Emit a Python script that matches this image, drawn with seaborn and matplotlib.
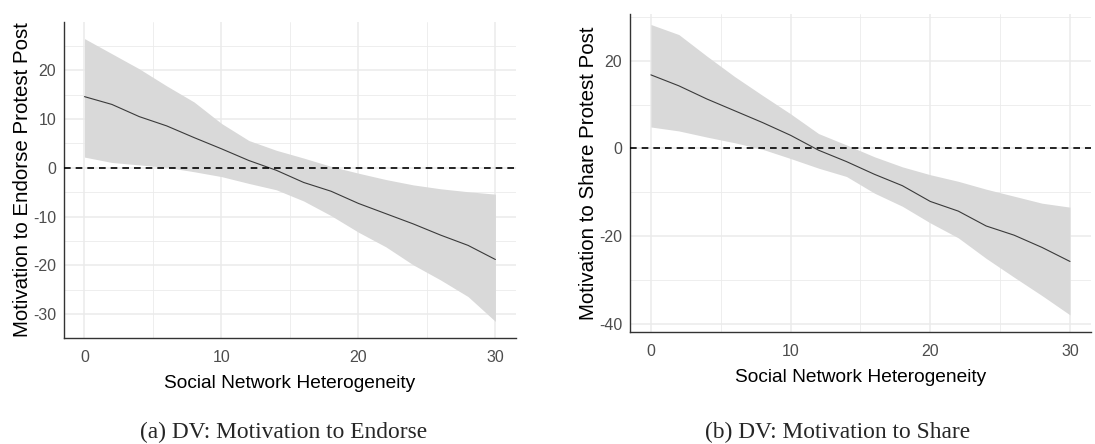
import numpy as np
import pandas as pd
import matplotlib.pyplot as plt
from matplotlib.ticker import MultipleLocator
import seaborn as sns

# heterogeneity grid (x) and estimated marginal effects
het = [0, 2, 4, 6, 8, 10, 12, 14, 16, 18, 20, 22, 24, 26, 28, 30]

endorse_fit = [14.6, 13.0, 10.5, 8.6, 6.2, 3.9, 1.5, -0.5, -3.0, -4.8, -7.3, -9.4, -11.5, -13.8, -15.9, -18.8]
endorse_hi = [26.5, 23.4, 20.3, 16.8, 13.5, 9.1, 5.6, 3.6, 2.0, 0.3, -1.1, -2.4, -3.5, -4.3, -4.9, -5.4]
endorse_lo = [2.2, 1.1, 0.6, 0.1, -0.8, -1.8, -3.2, -4.5, -6.8, -9.8, -13.2, -16.2, -19.9, -23.0, -26.4, -31.5]

share_fit = [16.8, 14.3, 11.3, 8.6, 5.9, 3.0, -0.4, -3.0, -5.9, -8.5, -12.1, -14.3, -17.7, -19.8, -22.6, -25.8]
share_hi = [28.3, 26.0, 21.1, 16.4, 12.1, 7.9, 3.4, 0.8, -1.9, -4.2, -6.0, -7.5, -9.3, -10.9, -12.5, -13.4]
share_lo = [4.9, 4.0, 2.6, 1.3, -0.2, -2.3, -4.5, -6.4, -10.2, -13.2, -17.0, -20.4, -25.1, -29.4, -33.6, -38.0]

ylabels = ["Motivation to Endorse Protest Post", "Motivation to Share Protest Post"]
captions = ["(a) DV: Motivation to Endorse", "(b) DV: Motivation to Share"]

sns.set_style("white")
plt.rcParams["font.family"] = ["Liberation Sans", "DejaVu Sans"]
plt.rcParams["axes.unicode_minus"] = False

GRID = "#EBEBEB"
BAND = "#D9D9D9"
TICK = "#4D4D4D"

fig = plt.figure(figsize=(10.95, 4.44), dpi=100)
ax_l = fig.add_axes([0.0584, 0.2387, 0.4128, 0.7117])
ax_r = fig.add_axes([0.5753, 0.2523, 0.4210, 0.7162])

panels = [
    (ax_l, endorse_fit, endorse_lo, endorse_hi, (-34.9, 29.9), 10),
    (ax_r, share_fit, share_lo, share_hi, (-41.9, 30.7), 20),
]

for i, (ax, fit, lo, hi, ylim, ystep) in enumerate(panels):
    df = pd.DataFrame({"het": het, "fit": fit, "lo": lo, "hi": hi})
    ax.fill_between(df["het"], df["lo"], df["hi"], color=BAND, linewidth=0, zorder=2)
    sns.lineplot(data=df, x="het", y="fit", ax=ax, color="#3A3A3A", linewidth=0.8, zorder=3)
    ax.axhline(0, color="black", linestyle=(0, (4, 3)), linewidth=1.2, zorder=4)

    ax.set_xlim(-1.5, 31.5)
    ax.set_ylim(*ylim)
    ax.xaxis.set_major_locator(MultipleLocator(10))
    ax.xaxis.set_minor_locator(MultipleLocator(5))
    ax.yaxis.set_major_locator(MultipleLocator(ystep))
    ax.yaxis.set_minor_locator(MultipleLocator(ystep / 2))
    ax.grid(which="major", color=GRID, linewidth=1.1, zorder=0)
    ax.grid(which="minor", color=GRID, linewidth=0.6, zorder=0)
    ax.set_axisbelow(True)

    for s in ["top", "right"]:
        ax.spines[s].set_visible(False)
    for s in ["left", "bottom"]:
        ax.spines[s].set_color("#333333")
        ax.spines[s].set_linewidth(1.0)
    ax.tick_params(which="major", length=3.5, width=0.8, color="#333333",
                   labelsize=11.5, labelcolor=TICK)
    ax.tick_params(axis="x", which="major", pad=5)
    ax.tick_params(axis="y", which="major", pad=2)
    ax.tick_params(which="minor", length=0)

    ax.set_xlabel("Social Network Heterogeneity", fontsize=13.8, color="black", labelpad=7)
    ax.set_ylabel(ylabels[i], fontsize=14.8, color="black", labelpad=1)

fig.text(0.259, 0.027, captions[0], ha="center", va="center",
         fontsize=16.8, family="Liberation Serif")
fig.text(0.765, 0.027, captions[1], ha="center", va="center",
         fontsize=16.8, family="Liberation Serif")

fig.savefig("out.png", dpi=100, facecolor="white")
